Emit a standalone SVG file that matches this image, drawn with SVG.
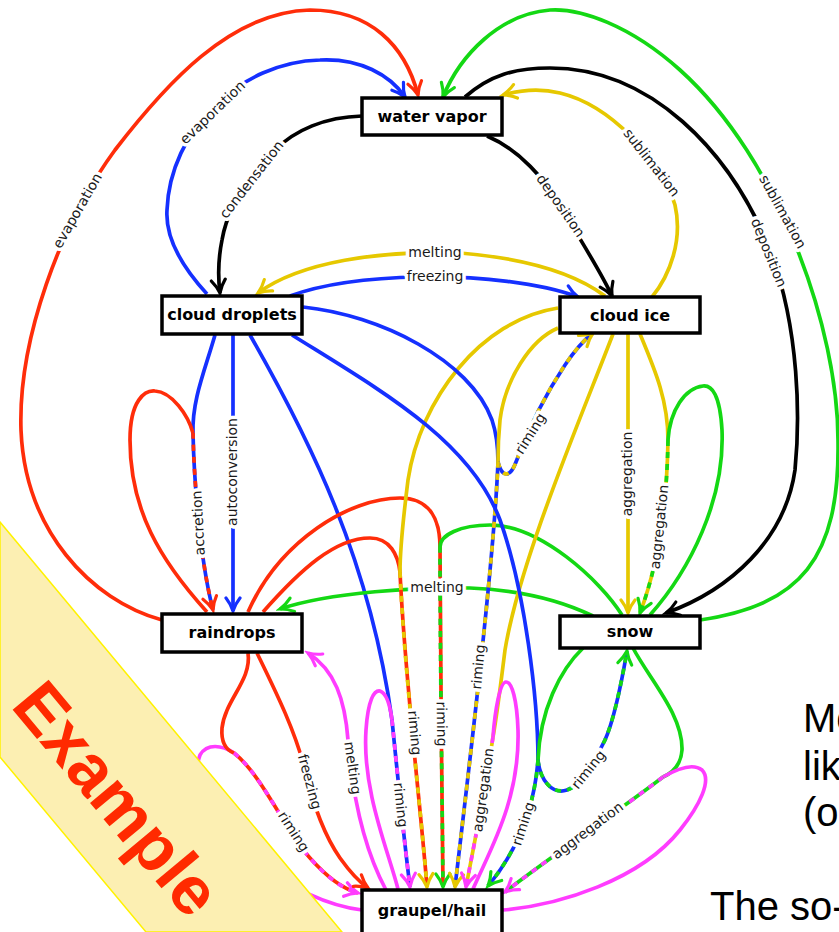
<svg xmlns="http://www.w3.org/2000/svg" width="839" height="932" viewBox="0 0 839 932">
<style>
.c{fill:none;stroke-width:3.7}
.r{stroke:#FF2D0A}.b{stroke:#1530FF}.k{stroke:#000}.y{stroke:#E6C800}.g{stroke:#14D814}.m{stroke:#FF3CFF}
.d{stroke-dasharray:6 6}
.lbl{font-family:"DejaVu Sans",sans-serif;font-size:14px;fill:#1a1a1a;stroke:#fff;stroke-width:7;paint-order:stroke;stroke-linejoin:round;text-anchor:middle}
.node rect{fill:#fff;stroke:#000;stroke-width:3.5}
.node text{font-family:"DejaVu Sans",sans-serif;font-weight:bold;font-size:16px;text-anchor:middle;fill:#000}
.slide{font-family:"Liberation Sans",Arial,sans-serif;font-size:40px;fill:#000}
</style>
<defs>
<marker id="ar-r" markerUnits="userSpaceOnUse" viewBox="-16 -10 20 20" refX="0" refY="0" markerWidth="20" markerHeight="20" orient="auto"><path d="M-13,-7 C-8,-3 -3,-1 0,0 C-3,1 -8,3 -13,7" fill="none" stroke="#FF2D0A" stroke-width="3.2" stroke-linecap="round"/></marker>
<marker id="ar-b" markerUnits="userSpaceOnUse" viewBox="-16 -10 20 20" refX="0" refY="0" markerWidth="20" markerHeight="20" orient="auto"><path d="M-13,-7 C-8,-3 -3,-1 0,0 C-3,1 -8,3 -13,7" fill="none" stroke="#1530FF" stroke-width="3.2" stroke-linecap="round"/></marker>
<marker id="ar-k" markerUnits="userSpaceOnUse" viewBox="-16 -10 20 20" refX="0" refY="0" markerWidth="20" markerHeight="20" orient="auto"><path d="M-13,-7 C-8,-3 -3,-1 0,0 C-3,1 -8,3 -13,7" fill="none" stroke="#000" stroke-width="3.2" stroke-linecap="round"/></marker>
<marker id="ar-y" markerUnits="userSpaceOnUse" viewBox="-16 -10 20 20" refX="0" refY="0" markerWidth="20" markerHeight="20" orient="auto"><path d="M-13,-7 C-8,-3 -3,-1 0,0 C-3,1 -8,3 -13,7" fill="none" stroke="#E6C800" stroke-width="3.2" stroke-linecap="round"/></marker>
<marker id="ar-g" markerUnits="userSpaceOnUse" viewBox="-16 -10 20 20" refX="0" refY="0" markerWidth="20" markerHeight="20" orient="auto"><path d="M-13,-7 C-8,-3 -3,-1 0,0 C-3,1 -8,3 -13,7" fill="none" stroke="#14D814" stroke-width="3.2" stroke-linecap="round"/></marker>
<marker id="ar-m" markerUnits="userSpaceOnUse" viewBox="-16 -10 20 20" refX="0" refY="0" markerWidth="20" markerHeight="20" orient="auto"><path d="M-13,-7 C-8,-3 -3,-1 0,0 C-3,1 -8,3 -13,7" fill="none" stroke="#FF3CFF" stroke-width="3.2" stroke-linecap="round"/></marker>
</defs>
<rect width="839" height="932" fill="#fff"/>
<g id="connectors">
<path class="c r" d="M162,620 C90,600 25,530 21,430 C18,340 60,225 115,150 C165,85 230,12 310,10 C370,10 405,45 418,95" marker-end="url(#ar-r)"/>
<path class="c b" d="M207,294 C185,270 165,240 167,210 C170,130 240,62 320,60 C360,58 390,75 405,97" marker-end="url(#ar-b)"/>
<path class="c k" d="M362,116 C325,117 295,130 275,150 C250,175 228,205 222,240 C218,260 218,278 220,293" marker-end="url(#ar-k)"/>
<path class="c g" d="M700,620 C800,605 840,560 838,440 C838,330 780,160 680,70 C630,25 580,8 550,10 C500,14 460,55 443,97" marker-end="url(#ar-g)"/>
<path class="c k" d="M465,97 C490,75 515,68 550,68 C650,68 730,150 770,250 C800,330 800,420 795,470 C785,540 730,590 666,613" marker-end="url(#ar-k)"/>
<path class="c y" d="M652,297 C670,275 683,240 675,205 C662,160 610,105 560,93 C540,88 520,90 503,95" marker-end="url(#ar-y)"/>
<path class="c k" d="M487,136 C520,150 545,180 560,205 C580,240 600,270 612,296" marker-end="url(#ar-k)"/>
<path class="c y" d="M605,296 C570,270 520,258 460,253 C380,250 300,262 258,293" marker-end="url(#ar-y)"/>
<path class="c b" d="M290,296 C320,285 360,278 420,277 C480,276 540,283 578,297" marker-end="url(#ar-b)"/>
<path class="c b" d="M215,335 C205,370 192,400 193,433"/>
<path class="c r" d="M207,612 C160,560 130,510 130,440 C130,400 145,390 155,391 C172,392 188,415 193,433"/>
<path class="c b" d="M193,433 C194,480 200,560 213,610"/>
<path class="c r d" d="M193,433 C194,480 200,560 213,610" marker-end="url(#ar-r)"/>
<path class="c b" d="M233,335 L233,611" marker-end="url(#ar-b)"/>
<path class="c b" d="M250,335 C310,440 370,560 392,720"/>
<path class="c m" d="M398,889 C388,850 362,790 366,730 C368,700 374,690 380,691 C386,693 390,705 392,720"/>
<path class="c b" d="M392,720 C398,780 404,840 410,887"/>
<path class="c m d" d="M392,720 C398,780 404,840 410,887" marker-end="url(#ar-m)"/>
<path class="c m" d="M386,890 C362,845 352,790 348,740 C345,700 335,670 308,653" marker-end="url(#ar-m)"/>
<path class="c m" d="M362,910 C330,906 290,890 250,855 C215,825 190,780 200,755 C207,743 222,745 234,753"/>
<path class="c r" d="M248,653 C252,680 225,700 222,728 C221,742 226,750 234,753"/>
<path class="c r" d="M234,753 C262,775 285,830 310,858 C325,875 340,888 358,893"/>
<path class="c m d" d="M234,753 C262,775 285,830 310,858 C325,875 340,888 358,893" marker-end="url(#ar-m)"/>
<path class="c r" d="M257,653 C275,690 295,730 305,770 C312,800 322,832 340,858 C350,872 358,881 368,888" marker-end="url(#ar-r)"/>
<path class="c g" d="M593,616 C560,600 520,590 470,588 C420,587 330,592 280,609" marker-end="url(#ar-g)"/>
<path class="c r" d="M248,612 C280,540 350,498 400,498 C430,498 440,520 440,547"/>
<path class="c g" d="M622,615 C600,580 540,525 490,525 C460,525 440,535 440,547"/>
<path class="c r" d="M440,547 C440,650 442,780 443,887"/>
<path class="c g d" d="M440,547 C440,650 442,780 443,887" marker-end="url(#ar-g)"/>
<path class="c r" d="M263,612 C300,570 335,538 370,538 C390,538 398,555 400,572"/>
<path class="c y" d="M558,308 C480,320 420,400 408,480 C403,520 400,550 400,572"/>
<path class="c r" d="M400,572 C405,680 420,800 427,887"/>
<path class="c y d" d="M400,572 C405,680 420,800 427,887" marker-end="url(#ar-y)"/>
<path class="c b" d="M303,307 C380,315 470,360 492,420 C497,435 498,450 498,462"/>
<path class="c y" d="M558,328 C530,340 505,380 500,420 C498,440 498,450 498,462"/>
<path class="c b" d="M498,462 C502,478 510,478 516,462 C528,430 545,395 565,365 C575,350 584,340 593,333"/>
<path class="c y d" d="M498,462 C502,478 510,478 516,462 C528,430 545,395 565,365 C575,350 584,340 593,333" marker-end="url(#ar-y)"/>
<path class="c b" d="M498,462 C494,560 470,760 455,887"/>
<path class="c y d" d="M498,462 C494,560 470,760 455,887" marker-end="url(#ar-y)"/>
<path class="c y" d="M613,334 C580,420 520,560 505,650 C500,690 497,715 493,737"/>
<path class="c m" d="M473,889 C490,850 520,800 518,730 C517,700 512,682 506,682 C500,682 495,710 493,737"/>
<path class="c y" d="M493,737 C485,790 475,840 466,887"/>
<path class="c m d" d="M493,737 C485,790 475,840 466,887" marker-end="url(#ar-m)"/>
<path class="c b" d="M292,335 C380,390 470,440 500,520 C525,590 538,700 538,760"/>
<path class="c g" d="M583,648 C560,670 540,710 538,760"/>
<path class="c b" d="M538,760 C540,780 552,795 567,790 C582,785 595,760 605,740 C614,720 622,680 627,651"/>
<path class="c g d" d="M538,760 C540,780 552,795 567,790 C582,785 595,760 605,740 C614,720 622,680 627,651" marker-end="url(#ar-g)"/>
<path class="c b" d="M538,760 C535,800 522,845 488,886"/>
<path class="c g d" d="M538,760 C535,800 522,845 488,886" marker-end="url(#ar-g)"/>
<path class="c y" d="M628,334 L628,613" marker-end="url(#ar-y)"/>
<path class="c y" d="M640,334 C655,370 668,400 668,440"/>
<path class="c g" d="M650,615 C690,570 725,500 722,430 C720,395 712,385 703,386 C685,388 670,410 668,440"/>
<path class="c y" d="M668,440 C667,500 660,560 640,613"/>
<path class="c g d" d="M668,440 C667,500 660,560 640,613" marker-end="url(#ar-g)"/>
<path class="c g" d="M633,648 C650,680 683,715 682,750 C681,765 672,773 663,777"/>
<path class="c m" d="M503,910 C560,905 640,880 680,830 C700,805 712,780 702,770 C692,762 675,770 663,777"/>
<path class="c g" d="M663,777 C620,810 560,850 505,892"/>
<path class="c m d" d="M663,777 C620,810 560,850 505,892" marker-end="url(#ar-m)"/>
</g>
<g id="edge-labels">
<text class="lbl" transform="translate(78,211) rotate(-60)" dy="4">evaporation</text>
<text class="lbl" transform="translate(213,113) rotate(-44)" dy="4">evaporation</text>
<text class="lbl" transform="translate(252,180) rotate(-52)" dy="4">condensation</text>
<text class="lbl" transform="translate(560,206) rotate(55)" dy="4">deposition</text>
<text class="lbl" transform="translate(651,163) rotate(52)" dy="4">sublimation</text>
<text class="lbl" transform="translate(768,253) rotate(68)" dy="4">deposition</text>
<text class="lbl" transform="translate(782,212) rotate(61)" dy="4">sublimation</text>
<text class="lbl" transform="translate(435,253)" dy="4">melting</text>
<text class="lbl" transform="translate(435,277)" dy="4">freezing</text>
<text class="lbl" transform="translate(199,523) rotate(-93)" dy="4">accretion</text>
<text class="lbl" transform="translate(233,472) rotate(-90)" dy="4">autoconversion</text>
<text class="lbl" transform="translate(437,588)" dy="4">melting</text>
<text class="lbl" transform="translate(531,434) rotate(-58)" dy="4">riming</text>
<text class="lbl" transform="translate(479,667) rotate(-85)" dy="4">riming</text>
<text class="lbl" transform="translate(628,474) rotate(-90)" dy="4">aggregation</text>
<text class="lbl" transform="translate(660,527) rotate(-84)" dy="4">aggregation</text>
<text class="lbl" transform="translate(414,733) rotate(85)" dy="4">riming</text>
<text class="lbl" transform="translate(441,724) rotate(89)" dy="4">riming</text>
<text class="lbl" transform="translate(400,805) rotate(84)" dy="4">riming</text>
<text class="lbl" transform="translate(352,768) rotate(82)" dy="4">melting</text>
<text class="lbl" transform="translate(309,782) rotate(75)" dy="4">freezing</text>
<text class="lbl" transform="translate(293,832) rotate(57)" dy="4">riming</text>
<text class="lbl" transform="translate(484,790) rotate(-82)" dy="4">aggregation</text>
<text class="lbl" transform="translate(524,824) rotate(-72)" dy="4">riming</text>
<text class="lbl" transform="translate(589,770) rotate(-51)" dy="4">riming</text>
<text class="lbl" transform="translate(588,831) rotate(-37)" dy="4">aggregation</text>
</g>
<g id="node-water-vapor" class="node"><rect x="362" y="98" width="140" height="37"/><text x="432" y="122">water vapor</text></g>
<g id="node-cloud-droplets" class="node"><rect x="162" y="296" width="140" height="38"/><text x="232" y="320">cloud droplets</text></g>
<g id="node-cloud-ice" class="node"><rect x="560" y="297" width="140" height="36"/><text x="630" y="321">cloud ice</text></g>
<g id="node-raindrops" class="node"><rect x="162" y="614" width="140" height="38"/><text x="232" y="638">raindrops</text></g>
<g id="node-snow" class="node"><rect x="560" y="616" width="140" height="32"/><text x="630" y="637">snow</text></g>
<g id="node-graupel-hail" class="node"><rect x="362" y="890" width="140" height="50"/><text x="432" y="916">graupel/hail</text></g>
<g id="banner">
<polygon points="0,522 342,932 146,932 0,757" fill="#FCEFB2" stroke="#FFF200" stroke-width="1.5"/>
<text transform="translate(118,798) rotate(50.2)" dy="0.36em" text-anchor="middle" font-family="'Liberation Sans',Arial,sans-serif" font-weight="bold" font-size="68" fill="#FF2A00">Example</text>
</g>
<g id="slide-text">
<text class="slide" x="803" y="732">Mo</text>
<text class="slide" x="803" y="780">lik</text>
<text class="slide" x="803" y="826">(o</text>
<text class="slide" x="710" y="920">The so-</text>
</g>
</svg>
